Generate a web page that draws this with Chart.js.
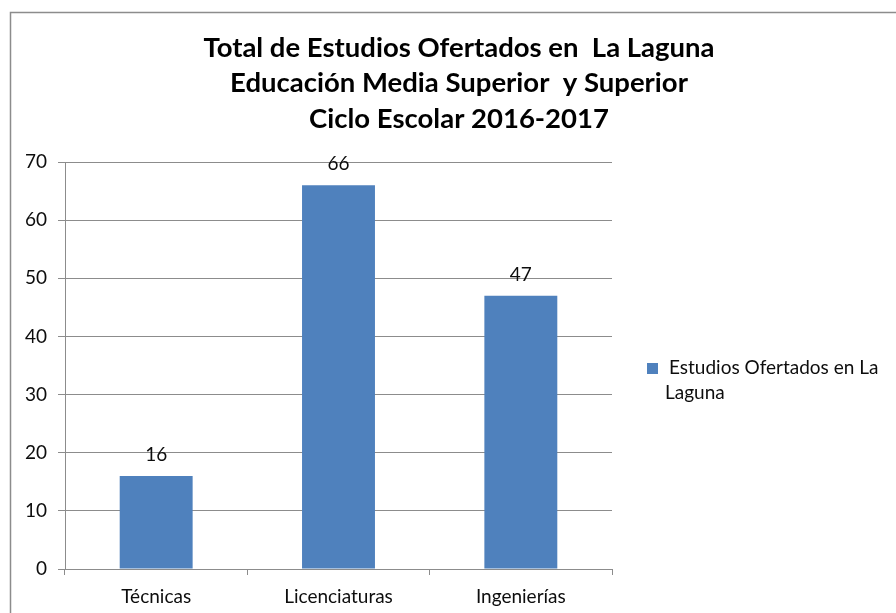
<!DOCTYPE html>
<html>
<head>
<meta charset="utf-8">
<script src="https://cdn.jsdelivr.net/npm/chart.js@4/dist/chart.umd.min.js"></script>
<style>
  body { margin: 0; background: #ffffff; }
  canvas { display: block; }
</style>
</head>
<body>
<canvas id="chart" width="896" height="613"></canvas>
<script>
const titleLines = ["Total de Estudios Ofertados en  La Laguna", "Educación Media Superior  y Superior", "Ciclo Escolar 2016-2017"];
const categories = ["Técnicas", "Licenciaturas", "Ingenierías"];
const seriesName = "Estudios Ofertados en La Laguna";
const legendLines = ["Estudios Ofertados en La", "Laguna"];
const values = [16, 66, 47];
const yTicks = [0, 10, 20, 30, 40, 50, 60, 70];

const FONT = "Lato, 'Noto Sans', sans-serif";
const GRID = "#8c8c8c";
const BAR = "#4f81bd";
const TEXT = "#0d0d0d";

// frame, title, value labels and legend drawn on top of the chart
const decorations = {
  id: 'decorations',
  beforeDraw(chart) {
    const ctx = chart.ctx;
    ctx.save();
    ctx.fillStyle = "#ffffff";
    ctx.fillRect(0, 0, chart.width, chart.height);
    ctx.strokeStyle = GRID;
    ctx.lineWidth = 1.5;
    ctx.strokeRect(10.5, 12.5, 897, 620);
    ctx.restore();
  },
  afterDraw(chart) {
    const ctx = chart.ctx;
    ctx.save();

    // title
    ctx.fillStyle = "#000000";
    ctx.font = "bold 27.5px " + FONT;
    ctx.textAlign = "center";
    ctx.textBaseline = "middle";
    titleLines.forEach((line, i) => ctx.fillText(line, 459, 48 + i * 35.5));

    // value labels above bars
    ctx.font = "19px " + FONT;
    ctx.fillStyle = TEXT;
    const meta = chart.getDatasetMeta(0);
    meta.data.forEach((bar, i) => {
      ctx.fillText(String(values[i]), bar.x, bar.y - 21);
    });

    // legend
    ctx.fillStyle = BAR;
    ctx.fillRect(647, 363, 11, 11);
    ctx.fillStyle = TEXT;
    ctx.textAlign = "left";
    ctx.fillText(legendLines[0], 669, 368);
    ctx.fillText(legendLines[1], 665, 393);

    ctx.restore();
  }
};

new Chart(document.getElementById("chart"), {
  type: "bar",
  data: {
    labels: categories,
    datasets: [{
      label: seriesName,
      data: values,
      backgroundColor: BAR,
      borderWidth: 0,
      barPercentage: 0.4,
      categoryPercentage: 1.0
    }]
  },
  options: {
    responsive: false,
    animation: false,
    layout: { padding: { left: 0, right: 284, top: 162, bottom: 0 } },
    plugins: {
      legend: { display: false },
      title: { display: false },
      tooltip: { enabled: false }
    },
    scales: {
      x: {
        grid: {
          offset: true,
          drawOnChartArea: false,
          drawTicks: true,
          tickLength: 6,
          color: GRID
        },
        border: { color: GRID, width: 1 },
        ticks: {
          color: TEXT,
          font: { family: FONT, size: 19 },
          padding: 10
        },
        afterFit(scale) { scale.height = 44; }
      },
      y: {
        min: 0,
        max: 70,
        afterBuildTicks(scale) { scale.ticks = yTicks.map(v => ({ value: v })); },
        grid: {
          color: GRID,
          drawTicks: true,
          tickLength: 7
        },
        border: { color: GRID, width: 1 },
        ticks: {
          color: TEXT,
          font: { family: FONT, size: 19 },
          padding: 11
        },
        afterFit(scale) { scale.width = 65; }
      }
    }
  },
  plugins: [decorations]
});
</script>
</body>
</html>
